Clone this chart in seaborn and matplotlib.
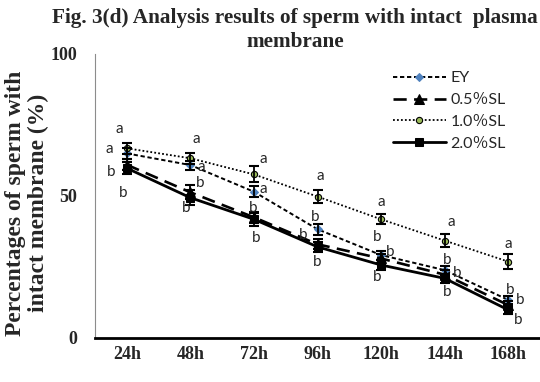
import matplotlib
matplotlib.use("Agg")
import matplotlib.pyplot as plt
import seaborn as sns
import pandas as pd
import numpy as np

# ---------------- data ----------------
categories = ["24h", "48h", "72h", "96h", "120h", "144h", "168h"]
series_names = ["EY", "0.5％SL", "1.0％SL", "2.0％SL"]

ey_vals = [65.0, 60.9, 51.5, 38.3, 29.2, 23.9, 13.4]
sl05_vals = [61.0, 51.3, 42.5, 33.0, 28.0, 22.3, 11.6]
sl10_vals = [66.8, 63.3, 57.6, 49.8, 41.8, 34.3, 26.9]
sl20_vals = [59.8, 49.4, 41.8, 32.1, 25.7, 21.0, 9.9]

ey_err = [1.8, 1.6, 2.0, 2.0, 1.6, 1.6, 1.4]
sl05_err = [2.0, 2.5, 2.0, 1.8, 1.6, 1.6, 1.4]
sl10_err = [2.0, 2.0, 2.8, 2.3, 1.8, 2.2, 2.6]
sl20_err = [2.2, 2.6, 2.2, 1.8, 1.6, 1.6, 1.4]

ey_letters = ["a", "a", "a", "b", "b", "b", "b"]
sl05_letters = ["b", "b", "b", "b", "b", "b", "b"]
sl10_letters = ["a", "a", "a", "a", "a", "a", "a"]
sl20_letters = ["b", "b", "b", "b", "b", "b", "b"]

y_ticks = [0, 50, 100]
title_lines = ["Fig. 3(d) Analysis results of sperm with intact  plasma", "membrane"]
ylabel_text = "Percentages of sperm with\nintact membrane (%)"

# ---------------- layout (letter anchor: x offset, y position) ----------------
ey_lpos = [(-0.27, 66.5), (0.17, 60.3), (0.14, 52.5), (-0.04, 42.6), (-0.06, 35.6), (0.04, 27.5), (0.03, 16.9)]
sl05_lpos = [(-0.24, 58.5), (0.15, 54.6), (-0.02, 45.8), (-0.23, 36.3), (0.14, 30.3), (0.20, 22.9), (0.19, 13.4)]
sl10_lpos = [(-0.11, 73.6), (0.10, 70.0), (0.14, 63.0), (0.04, 57.0), (0.0, 47.9), (0.10, 40.8), (0.0, 33.0)]
sl20_lpos = [(-0.06, 51.0), (-0.07, 45.8), (0.03, 35.2), (0.0, 26.8), (-0.06, 21.5), (0.04, 16.2), (0.16, 6.3)]

values = [ey_vals, sl05_vals, sl10_vals, sl20_vals]
errors = [ey_err, sl05_err, sl10_err, sl20_err]
letters = [ey_letters, sl05_letters, sl10_letters, sl20_letters]
lpos = [ey_lpos, sl05_lpos, sl10_lpos, sl20_lpos]

styles = [
    dict(linestyle=(0, (2.2, 1.4)), linewidth=1.4, marker="D", markersize=3.6,
         markerfacecolor="#4F81BD", markeredgecolor="#4F81BD"),
    dict(linestyle=(0, (5.0, 2.8)), linewidth=1.9, marker="^", markersize=6.5,
         markerfacecolor="black", markeredgecolor="black"),
    dict(linestyle=(0, (1.0, 1.2)), linewidth=1.3, marker="o", markersize=4.5,
         markerfacecolor="#9BBB59", markeredgecolor="black", markeredgewidth=0.8),
    dict(linestyle="-", linewidth=2.0, marker="s", markersize=5.5,
         markerfacecolor="black", markeredgecolor="black"),
]

# ---------------- figure ----------------
sns.set_style("white")
plt.rcParams["font.family"] = ["DejaVu Sans", "Noto Sans CJK SC"]

fig = plt.figure(figsize=(5.4, 3.82), dpi=100)
ax = fig.add_axes([95 / 540, 1 - 338 / 382, 445 / 540, (338 - 54) / 382])

xpos = np.arange(len(categories))
handles = []
for name, vals, errs, st in zip(series_names, values, errors, styles):
    df = pd.DataFrame({"x": xpos, "y": vals})
    sns.lineplot(data=df, x="x", y="y", ax=ax, color="black", label=name,
                 legend=False, zorder=3, **st)
    handles.append(ax.get_lines()[-1])
    ax.errorbar(xpos, vals, yerr=errs, fmt="none", ecolor="black",
                elinewidth=1.3, capsize=3.5, capthick=1.5, zorder=4)

letter_font = ["Lato", "DejaVu Sans"]
for lets, poss in zip(letters, lpos):
    for i, (t, (dx, yy)) in enumerate(zip(lets, poss)):
        ax.text(xpos[i] + dx, yy, t, ha="center", va="center", fontsize=11,
                family=letter_font, zorder=5)

ax.set_xlim(-0.5, len(categories) - 0.5)
ax.set_ylim(0, 100)
ax.set_xticks(xpos)
ax.set_xticklabels(categories)
ax.set_yticks(y_ticks)
ax.set_yticklabels([str(v) for v in y_ticks])
ax.tick_params(axis="both", length=0)
ax.tick_params(axis="y", pad=13)
ax.tick_params(axis="x", pad=6)
for lab in ax.get_xticklabels() + ax.get_yticklabels():
    lab.set_family("Liberation Serif")
    lab.set_fontweight("bold")
    lab.set_fontsize(13)

ax.set_xlabel("")
ax.set_ylabel(ylabel_text, family="Liberation Serif", fontweight="bold",
              fontsize=17, linespacing=1.08)
ax.yaxis.set_label_coords((27 - 95) / 445, (338 - 203) / 284)
ax.yaxis.label.set_verticalalignment("center")

for s in ["top", "right"]:
    ax.spines[s].set_visible(False)
ax.spines["left"].set_color("#8C8C8C")
ax.spines["left"].set_linewidth(0.8)
ax.spines["bottom"].set_color("black")
ax.spines["bottom"].set_linewidth(2.0)

for line, ypx in zip(title_lines, [18, 42]):
    fig.text(295 / 540, 1 - ypx / 382, line, ha="center", va="center",
             family="Liberation Serif", fontweight="bold", fontsize=15.3)

leg = ax.legend(handles=handles, labels=series_names, loc="center left",
                bbox_to_anchor=(393 / 540, 1 - 111 / 382),
                bbox_transform=fig.transFigure, frameon=False,
                handlelength=3.3, handletextpad=0.3, labelspacing=0.48,
                borderpad=0, borderaxespad=0,
                prop={"family": ["Lato", "Noto Sans CJK SC"], "size": 11.5})

fig.savefig("out.png", dpi=100)
